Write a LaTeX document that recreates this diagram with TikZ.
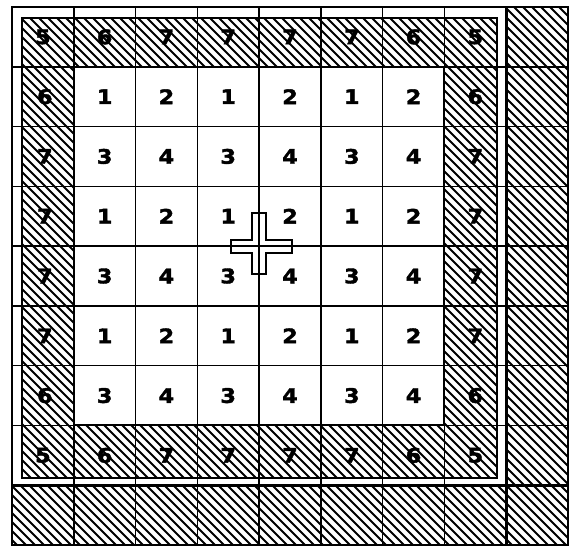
\documentclass[tikz,border=0pt]{standalone}
\usepackage{fontspec}
\setmainfont{Liberation Sans}
\newfontfamily\numfont{DejaVu Sans}[UprightFont=* Bold, FakeStretch=1.12, FakeBold=2]
\begin{document}
\begin{tikzpicture}[x=1pt,y=-1pt,
  gridline/.style={line width=1.6pt},
  heavy/.style={line width=2.8pt},
  hatchline/.style={line width=1.8pt},
  num/.style={font=\numfont\fontsize{20}{20}\selectfont, inner sep=0pt}]
\useasboundingbox (0,0) rectangle (575,550);
\def\cw{61.78}
\def\ch{59.78}
% hatched ring
\begin{scope}[even odd rule]
  \clip (22,18) rectangle (497,478) (73.8,66.8) rectangle (444.4,425.4);
  \foreach \k in {-600,-591,...,600} \draw[hatchline] (\k,0) -- ++(600,600);
\end{scope}
% hatched guard L
\begin{scope}
  \clip (506.2,7) rectangle (568,545) (12,485.2) rectangle (568,545);
  \foreach \k in {-600,-591,...,600} \draw[hatchline] (\k,0) -- ++(600,600);
\end{scope}
% grid
\foreach \i in {1,...,8} \draw[gridline] ({12+\i*\cw},7) -- ({12+\i*\cw},545);
\foreach \j in {1,...,8} \draw[gridline] (12,{7+\j*\ch}) -- (568,{7+\j*\ch});
% heavy frames
\draw[heavy] (12,7) rectangle (568,545);
\draw[heavy] (22,18) rectangle (497,478);
\draw[line width=2pt] (73.8,66.8) rectangle (444.4,425.4);
\draw[heavy] (506.2,7) -- (506.2,545);
\draw[heavy] (12,485.2) -- (568,485.2);
% ring numbers
\foreach \c/\v in {0/5,1/6,2/7,3/7,4/7,5/7,6/6,7/5} {
  \node[num] (t\c) at ({12+(\c+0.5)*\cw},{7+0.5*\ch}) {\v};
  \node[num] (b\c) at ({12+(\c+0.5)*\cw},{7+7.5*\ch}) {\v};
}
\foreach \r/\v in {1/6,2/7,3/7,4/7,5/7,6/6} {
  \node[num] (l\r) at ({14+0.5*\cw},{7+(\r+0.5)*\ch}) {\v};
  \node[num] (r\r) at ({12+7.5*\cw},{7+(\r+0.5)*\ch}) {\v};
}
% inner numbers
\foreach \r in {1,...,6} {
  \foreach \c in {1,...,6} {
    \pgfmathtruncatemacro\v{1+mod(\c-1,2)+2*mod(\r-1,2)}
    \node[num] (n\r-\c) at ({12+(\c+0.5)*\cw},{7+(\r+0.5)*\ch}) {\v};
  }
}
% cross
\draw[line width=1.6pt] (252,213) -- (266,213) -- (266,240) -- (292,240) -- (292,253) -- (266,253) -- (266,274) -- (252,274) -- (252,253) -- (231,253) -- (231,240) -- (252,240) -- cycle;
\end{tikzpicture}
\end{document}
